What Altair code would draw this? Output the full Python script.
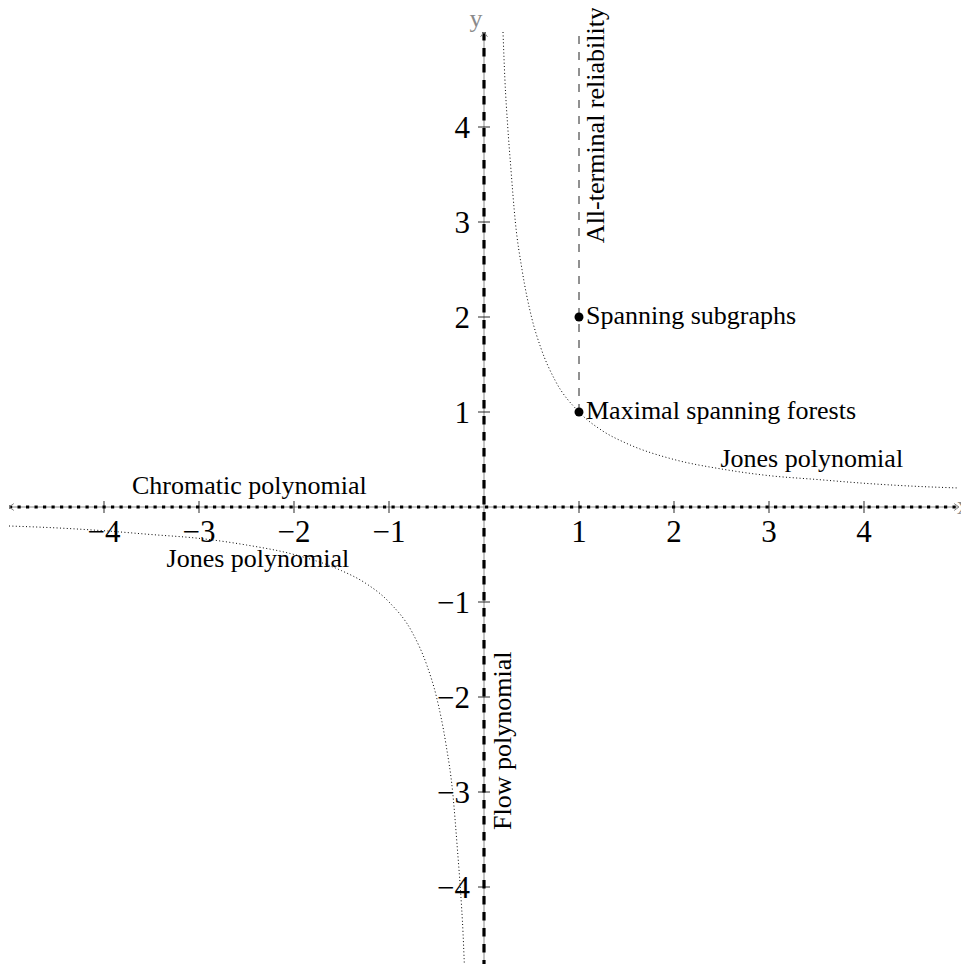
import altair as alt
import pandas as pd

# ---------------- data ----------------
axis_ends = [-5, 5]
tick_vals = [-4, -3, -2, -1, 1, 2, 3, 4]
tick_text = ["−4", "−3", "−2", "−1", "1", "2", "3", "4"]

# Jones polynomial curve (xy = 1)
jones_pos_x = [0.2, 0.22, 0.25, 0.28, 0.33, 0.4, 0.5, 0.6, 0.75, 1.0, 1.25, 1.5, 2.0, 2.5, 3.0, 3.5, 4.0, 4.5, 5.0]
jones_pos_y = [5.0, 4.5, 4.0, 3.6, 3.0, 2.5, 2.0, 1.67, 1.33, 1.0, 0.8, 0.67, 0.5, 0.4, 0.33, 0.29, 0.25, 0.22, 0.2]
jones_neg_x = [-5.0, -4.5, -4.0, -3.5, -3.0, -2.5, -2.0, -1.5, -1.25, -1.0, -0.75, -0.6, -0.5, -0.4, -0.33, -0.28, -0.25, -0.22, -0.2]
jones_neg_y = [-0.2, -0.22, -0.25, -0.29, -0.33, -0.4, -0.5, -0.67, -0.8, -1.0, -1.33, -1.67, -2.0, -2.5, -3.0, -3.6, -4.0, -4.5, -5.0]

# All-terminal reliability line x = 1, from y = 1 to 5
reliab_x = [1]
reliab_y = [1]
reliab_y2 = [5]

# special points
point_x = [1, 1]
point_y = [1, 2]
point_names = ["Maximal spanning forests", "Spanning subgraphs"]

# centered annotations
center_text = ["Chromatic polynomial", "Jones polynomial", "Jones polynomial"]
center_x = [-2.47, -2.38, 3.45]
center_y = [0.137, -0.628, 0.42]

# rotated annotations
rot_text = ["All-terminal reliability", "Flow polynomial"]
rot_x = [1.263, 0.284]
rot_y = [4.02, -2.46]

# ---------------- layout ----------------
W, H = 953, 956
PX = 95.0
XMIN = -476 / PX
XMAX = XMIN + W / PX
YMAX = 499 / PX
YMIN = YMAX - H / PX

FONT = "Liberation Serif"
GRAY = "#8a8a8a"

xs = alt.Scale(domain=[XMIN, XMAX], nice=False, zero=False)
ys = alt.Scale(domain=[YMIN, YMAX], nice=False, zero=False)


def X(f="x"):
    return alt.X(f"{f}:Q", scale=xs, axis=None)


def Y(f="y"):
    return alt.Y(f"{f}:Q", scale=ys, axis=None)


# axis lines
hx = pd.DataFrame({"x": [axis_ends[0]], "x2": [axis_ends[1]], "y": [0]})
vy = pd.DataFrame({"x": [0], "y": [axis_ends[1]], "y2": [axis_ends[0]]})

gray_x = alt.Chart(hx).mark_rule(color=GRAY, strokeWidth=1).encode(x=X(), x2="x2:Q", y=Y())
gray_y = alt.Chart(vy).mark_rule(color=GRAY, strokeWidth=1).encode(x=X(), y=Y(), y2="y2:Q")

chrom = alt.Chart(hx).mark_rule(color="black", strokeWidth=3.2, strokeDash=[3.2, 5.3], strokeCap="butt").encode(
    x=X(), x2="x2:Q", y=Y())
flow = alt.Chart(vy).mark_rule(color="black", strokeWidth=3.2, strokeDash=[8.5, 7.5], strokeCap="butt").encode(
    x=X(), y=Y(), y2="y2:Q")

arrows_df = pd.DataFrame({
    "x": [axis_ends[1], axis_ends[0], 0, 0],
    "y": [0, 0, axis_ends[1], axis_ends[0]],
    "ang": [0, 180, 270, 90],
})
arrows = alt.Chart(arrows_df).mark_point(
    shape="M-1.4,-1L0,0L-1.4,1", filled=False, stroke=GRAY, strokeWidth=1, size=49, opacity=1
).encode(x=X(), y=Y(), angle=alt.Angle("ang:Q", scale=None))

# ticks
xt = pd.DataFrame({"x": tick_vals, "y": [0] * len(tick_vals), "t": tick_text})
yt = pd.DataFrame({"x": [0] * len(tick_vals), "y": tick_vals, "t": tick_text})
xticks = alt.Chart(xt).mark_tick(orient="vertical", size=12, thickness=1.2, color="black").encode(x=X(), y=Y())
yticks = alt.Chart(yt).mark_tick(orient="horizontal", size=12, thickness=1.2, color="black").encode(x=X(), y=Y())
xlabels = alt.Chart(xt).mark_text(font=FONT, fontSize=31, align="center", baseline="alphabetic", dy=35,
                                  color="black").encode(x=X(), y=Y(), text="t:N")
ylabels = alt.Chart(yt).mark_text(font=FONT, fontSize=31, align="right", baseline="alphabetic", dx=-14, dy=11,
                                  color="black").encode(x=X(), y=Y(), text="t:N")

# Jones curve
jdf = pd.DataFrame({
    "x": jones_pos_x + jones_neg_x,
    "y": jones_pos_y + jones_neg_y,
    "branch": ["pos"] * len(jones_pos_x) + ["neg"] * len(jones_neg_x),
    "i": list(range(len(jones_pos_x))) + list(range(len(jones_neg_x))),
})
jones = alt.Chart(jdf).mark_line(color="black", strokeWidth=1, strokeDash=[1, 2.4], interpolate="monotone").encode(
    x=X(), y=Y(), detail="branch:N", order="i:Q")

# reliability dashed line
rdf = pd.DataFrame({"x": reliab_x, "y": reliab_y, "y2": reliab_y2})
reliab = alt.Chart(rdf).mark_rule(color="#222222", strokeWidth=1, strokeDash=[8, 8]).encode(
    x=X(), y=Y(), y2="y2:Q")

# points
pdf = pd.DataFrame({"x": point_x, "y": point_y, "t": point_names})
pts = alt.Chart(pdf).mark_circle(color="black", size=80, opacity=1).encode(x=X(), y=Y())
ptext = alt.Chart(pdf).mark_text(font=FONT, fontSize=26, align="left", baseline="alphabetic", dx=7, dy=7,
                                 color="black").encode(x=X(), y=Y(), text="t:N")

cdf = pd.DataFrame({"x": center_x, "y": center_y, "t": center_text})
ctext = alt.Chart(cdf).mark_text(font=FONT, fontSize=26, align="center", baseline="alphabetic",
                                 color="black").encode(x=X(), y=Y(), text="t:N")

rtdf = pd.DataFrame({"x": rot_x, "y": rot_y, "t": rot_text})
rtext = alt.Chart(rtdf).mark_text(font=FONT, fontSize=26, align="center", baseline="alphabetic", angle=270,
                                  color="black").encode(x=X(), y=Y(), text="t:N")

# axis names
ydf = pd.DataFrame({"x": [-0.084], "y": [5.053], "t": ["y"]})
xdf = pd.DataFrame({"x": [4.979], "y": [-0.074], "t": ["x"]})
yname = alt.Chart(ydf).mark_text(font=FONT, fontSize=26, align="center", baseline="alphabetic",
                                 color=GRAY).encode(x=X(), y=Y(), text="t:N")
xname = alt.Chart(xdf).mark_text(font=FONT, fontSize=26, align="left", baseline="alphabetic",
                                 color=GRAY).encode(x=X(), y=Y(), text="t:N")

chart = alt.layer(
    gray_x, gray_y, chrom, flow, arrows, xticks, yticks, jones, reliab, pts,
    xlabels, ylabels, ptext, ctext, rtext, yname, xname
).properties(
    width=W, height=H, padding=0, autosize=alt.AutoSizeParams(type="none"), background="white"
).configure_view(stroke=None)

chart.save("out.html", embed_options={"renderer": "svg", "actions": False})
